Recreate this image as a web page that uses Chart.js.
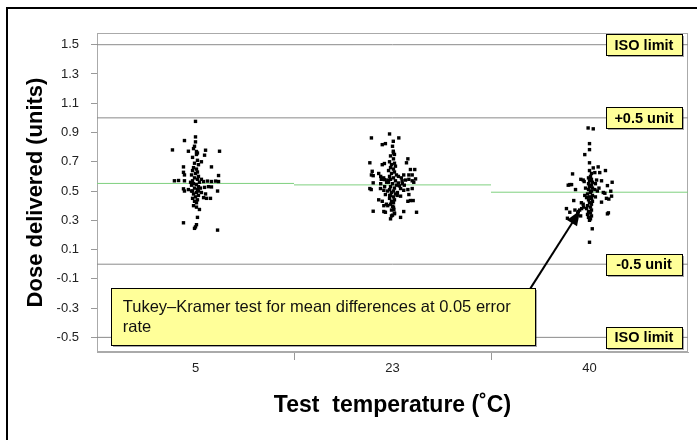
<!DOCTYPE html>
<html>
<head>
<meta charset="utf-8">
<script src="https://cdn.jsdelivr.net/npm/chart.js@4"></script>
<style>
  html, body { margin: 0; padding: 0; background: #fff; }
  #wrap { position: relative; width: 697px; height: 440px; }
</style>
</head>
<body>
<div id="wrap"><canvas id="chart" width="697" height="440"></canvas></div>
<script>
// test temperatures (categories)
const temps = ['5', '23', '40'];

// [jitter, dose] pairs, one list per temperature
const group5 = [
  [0, 0.976], [0, 0.87], [-0.056, 0.845], [0, 0.836], [-0.117, 0.781], [-0.036, 0.772],
  [-0.005, 0.806], [0.005, 0.77], [0.01, 0.76], [0.051, 0.779], [0.122, 0.772], [0.046, 0.745],
  [0.03, 0.70], [-0.061, 0.665], [0.081, 0.665], [-0.061, 0.628], [-0.056, 0.61], [0.117, 0.606],
  [-0.107, 0.57], [-0.086, 0.572], [-0.056, 0.57], [0.041, 0.565], [0.061, 0.568], [0.081, 0.565],
  [0.102, 0.568], [0.117, 0.565], [0.066, 0.53], [0.046, 0.525], [0.081, 0.528], [-0.061, 0.515],
  [-0.056, 0.50], [-0.036, 0.51], [0.112, 0.50], [0.015, 0.50], [0.03, 0.49], [0.051, 0.48],
  [0.041, 0.455], [0.056, 0.45], [0.076, 0.45], [0.02, 0.374], [0.01, 0.32], [-0.061, 0.283],
  [0.005, 0.27], [0, 0.255], [-0.005, 0.245], [0.112, 0.233],
  [-0.01, 0.79], [0.005, 0.75], [-0.015, 0.73], [0.01, 0.71], [-0.005, 0.69], [0.015, 0.68],
  [-0.01, 0.66], [0.005, 0.65], [-0.015, 0.64], [0.01, 0.63], [0, 0.62], [-0.02, 0.61],
  [0.015, 0.60], [-0.005, 0.59], [0.01, 0.58], [-0.015, 0.57], [0.02, 0.56], [-0.01, 0.55],
  [0.005, 0.545], [-0.02, 0.54], [0.015, 0.53], [-0.005, 0.52], [0.01, 0.51], [-0.015, 0.50],
  [0.005, 0.49], [-0.01, 0.48], [0.015, 0.47], [0, 0.46], [-0.015, 0.45], [0.01, 0.44],
  [-0.005, 0.43], [0.005, 0.42], [-0.01, 0.40], [0.005, 0.39], [-0.02, 0.50], [0.025, 0.52],
  [-0.025, 0.56], [0.03, 0.58]
];

const group23 = [
  [-0.015, 0.89], [-0.107, 0.863], [0.032, 0.863], [0.004, 0.84], [-0.036, 0.824], [-0.052, 0.817],
  [0, 0.806], [0.004, 0.772], [0.005, 0.76], [-0.115, 0.693], [0.078, 0.72], [0.071, 0.693],
  [-0.052, 0.68], [-0.041, 0.688], [-0.103, 0.635], [-0.107, 0.61], [-0.098, 0.605], [-0.07, 0.62],
  [0.091, 0.647], [0.113, 0.647], [0.057, 0.61], [0.083, 0.61], [0.1, 0.61], [-0.057, 0.58],
  [-0.041, 0.578], [-0.024, 0.575], [0.117, 0.583], [-0.098, 0.556], [0.049, 0.57], [0.066, 0.575],
  [0.083, 0.58], [0.1, 0.57], [0.108, 0.56], [-0.115, 0.517], [-0.108, 0.51], [-0.061, 0.517],
  [-0.044, 0.505], [0.041, 0.517], [0.057, 0.505], [0.078, 0.51], [0.1, 0.517], [-0.036, 0.476],
  [-0.014, 0.47], [0.024, 0.47], [0.041, 0.465], [0.083, 0.476], [0.078, 0.43], [-0.07, 0.44],
  [-0.052, 0.43], [0.091, 0.435], [0.105, 0.435], [-0.031, 0.41], [-0.024, 0.40], [-0.044, 0.40],
  [0, 0.395], [0.007, 0.375], [-0.098, 0.362], [0.057, 0.36], [-0.044, 0.36], [-0.036, 0.355],
  [0.122, 0.355], [0.01, 0.345], [0, 0.335], [-0.01, 0.31], [0.041, 0.32],
  [0.01, 0.75], [-0.01, 0.74], [0.005, 0.72], [-0.015, 0.70], [0.01, 0.69], [-0.005, 0.68],
  [0.015, 0.67], [-0.01, 0.66], [0.005, 0.65], [-0.02, 0.64], [0.01, 0.63], [-0.005, 0.62],
  [0.02, 0.61], [-0.015, 0.60], [0.005, 0.59], [-0.01, 0.58], [0.015, 0.57], [-0.02, 0.56],
  [0, 0.55], [0.02, 0.54], [-0.01, 0.53], [0.01, 0.52], [-0.015, 0.51], [0.005, 0.50],
  [-0.005, 0.49], [0.015, 0.48], [-0.01, 0.47], [0.005, 0.46], [-0.015, 0.45], [0.01, 0.44],
  [-0.005, 0.43], [0.005, 0.42], [-0.01, 0.41], [0.005, 0.39], [-0.005, 0.37], [0.01, 0.35],
  [-0.005, 0.33], [-0.06, 0.60], [-0.045, 0.59], [0.03, 0.60], [0.045, 0.59], [-0.03, 0.56],
  [0.03, 0.555], [-0.06, 0.55], [0.05, 0.55], [-0.04, 0.53], [0.035, 0.535], [0.06, 0.54],
  [-0.025, 0.50], [0.025, 0.49]
];

const group40 = [
  [-0.007, 0.931], [0.019, 0.925], [0, 0.824], [0, 0.783], [-0.024, 0.749], [0, 0.693],
  [0.019, 0.658], [0.044, 0.665], [0.081, 0.64], [0, 0.64], [0.01, 0.62], [-0.086, 0.617],
  [0.027, 0.626], [0.052, 0.626], [-0.044, 0.58], [-0.032, 0.575], [-0.027, 0.565], [0.036, 0.575],
  [0.061, 0.57], [0.115, 0.56], [-0.1, 0.544], [-0.091, 0.544], [0.091, 0.537], [-0.071, 0.51],
  [0.048, 0.52], [0.027, 0.51], [0.108, 0.499], [0.07, 0.49], [0.078, 0.485], [0.112, 0.465],
  [0.086, 0.45], [0.098, 0.445], [-0.024, 0.47], [-0.015, 0.455], [-0.08, 0.435], [0.061, 0.424],
  [-0.041, 0.42], [-0.032, 0.41], [-0.117, 0.38], [-0.1, 0.355], [-0.074, 0.37], [-0.057, 0.36],
  [0.091, 0.344], [-0.112, 0.314], [0, 0.32], [0.014, 0.242], [0, 0.15], [-0.108, 0.54],
  [0.096, 0.351],
  [0.005, 0.60], [-0.005, 0.59], [0.01, 0.58], [0, 0.57], [0.015, 0.56], [-0.005, 0.55],
  [0.01, 0.54], [0, 0.53], [0.015, 0.52], [-0.005, 0.51], [0.01, 0.50], [0.005, 0.49],
  [-0.01, 0.48], [0.015, 0.47], [0, 0.46], [0.01, 0.45], [-0.005, 0.44], [0.015, 0.43],
  [0, 0.42], [0.01, 0.41], [-0.01, 0.40], [0.005, 0.39], [-0.015, 0.38], [0.01, 0.37],
  [-0.005, 0.36], [0.005, 0.35], [-0.01, 0.34], [0.01, 0.33], [-0.005, 0.32], [0.005, 0.31],
  [0, 0.30], [-0.04, 0.38], [-0.05, 0.37], [-0.03, 0.39], [-0.06, 0.35], [-0.045, 0.33],
  [0.03, 0.55], [0.04, 0.50], [-0.02, 0.52], [0.03, 0.46]
];

// group means (green lines)
const meanDose = [0.552, 0.542, 0.492];

// horizontal reference lines and their labels
const limitValues = [1.5, 1.0, 0.0, -0.5];
const limitLabels = ['ISO limit', '+0.5 unit', '-0.5 unit', 'ISO limit'];

// y tick positions (labels on odd tenths only)
const yTicks = [-0.5, -0.4, -0.3, -0.2, -0.1, 0, 0.1, 0.2, 0.3, 0.4, 0.5, 0.6, 0.7,
                0.8, 0.9, 1.0, 1.1, 1.2, 1.3, 1.4, 1.5];

const noteText = ['Tukey\u2013Kramer test for mean differences at 0.05 error', 'rate'];

Chart.defaults.font.family = "'Liberation Sans', Arial, sans-serif";
Chart.defaults.color = '#222';

const groups = [group5, group23, group40];

const pointSets = groups.map((g, i) => ({
  type: 'scatter',
  data: g.map(p => ({ x: i + 0.5 + p[0], y: p[1] })),
  pointStyle: 'rect',
  pointRadius: 2.4,
  pointBorderWidth: 0,
  backgroundColor: '#000',
  order: 0
}));

const limitSets = limitValues.map(v => ({
  type: 'line',
  data: [{ x: 0, y: v }, { x: 3, y: v }],
  borderColor: '#8a8a8a',
  borderWidth: 1,
  pointRadius: 0,
  order: 2
}));

const meanSets = meanDose.map((m, i) => ({
  type: 'line',
  data: [{ x: i, y: m }, { x: i + 1, y: m }],
  borderColor: '#7fd07f',
  borderWidth: 1,
  pointRadius: 0,
  order: 1
}));

function yellowBox(ctx, x, y, w, h) {
  ctx.fillStyle = 'rgba(0,0,0,0.35)';
  ctx.fillRect(x + 2, y + 2, w, h);
  ctx.fillStyle = '#ffff99';
  ctx.fillRect(x, y, w, h);
  ctx.strokeStyle = '#000';
  ctx.lineWidth = 1;
  ctx.strokeRect(x + 0.5, y + 0.5, w, h);
}

const decorPlugin = {
  id: 'decor',
  beforeDatasetsDraw(chart) {
    const { ctx, chartArea: a } = chart;
    ctx.save();
    ctx.strokeStyle = '#aaa';
    ctx.lineWidth = 1;
    ctx.strokeRect(a.left + 0.5, a.top + 0.5, a.right - a.left - 1, a.bottom - a.top - 1);
    ctx.restore();
  },
  afterDraw(chart) {
    const { ctx, chartArea: a, scales } = chart;
    const xs = scales.x, ys = scales.y;
    ctx.save();

    // labels on the reference lines
    ctx.font = "bold 14.5px 'Liberation Sans', Arial, sans-serif";
    ctx.textBaseline = 'middle';
    ctx.textAlign = 'center';
    const bw = 76, bh = 21;
    limitValues.forEach((v, i) => {
      const py = ys.getPixelForValue(v);
      const bx = a.right - 6 - bw;
      yellowBox(ctx, bx, Math.round(py - bh / 2), bw, bh);
      ctx.fillStyle = '#000';
      ctx.fillText(limitLabels[i], bx + bw / 2, py + 1);
    });

    // note box
    const nl = xs.getPixelForValue(0.07), nr = xs.getPixelForValue(2.22);
    const nt = ys.getPixelForValue(-0.165), nb = ys.getPixelForValue(-0.555);
    yellowBox(ctx, Math.round(nl), Math.round(nt), Math.round(nr - nl), Math.round(nb - nt));
    ctx.fillStyle = '#111';
    ctx.textAlign = 'left';
    ctx.font = "16.5px 'Liberation Sans', Arial, sans-serif";
    noteText.forEach((t, i) => ctx.fillText(t, nl + 12, nt + 19 + i * 20));

    // arrow from the note to the 40 degree group
    const x0 = xs.getPixelForValue(2.2), y0 = nt;
    const x1 = xs.getPixelForValue(2.452), y1 = ys.getPixelForValue(0.367);
    const ang = Math.atan2(y1 - y0, x1 - x0);
    ctx.strokeStyle = '#000';
    ctx.lineWidth = 2;
    ctx.beginPath();
    ctx.moveTo(x0, y0);
    ctx.lineTo(x1 - 10 * Math.cos(ang), y1 - 10 * Math.sin(ang));
    ctx.stroke();
    ctx.fillStyle = '#000';
    ctx.beginPath();
    ctx.moveTo(x1, y1);
    ctx.lineTo(x1 - 15 * Math.cos(ang) + 6 * Math.sin(ang), y1 - 15 * Math.sin(ang) - 6 * Math.cos(ang));
    ctx.lineTo(x1 - 15 * Math.cos(ang) - 6 * Math.sin(ang), y1 - 15 * Math.sin(ang) + 6 * Math.cos(ang));
    ctx.closePath();
    ctx.fill();

    // outer frame
    ctx.strokeStyle = '#000';
    ctx.lineWidth = 2;
    ctx.strokeRect(7, 8, 720, 500);
    ctx.restore();
  }
};

new Chart(document.getElementById('chart'), {
  data: { datasets: [...pointSets, ...meanSets, ...limitSets] },
  options: {
    responsive: false,
    animation: false,
    layout: { padding: { left: 20, right: 9, top: 33, bottom: 0 } },
    plugins: { legend: { display: false }, tooltip: { enabled: false } },
    scales: {
      x: {
        type: 'linear',
        min: 0,
        max: 3,
        afterBuildTicks: s => { s.ticks = [0.5, 1, 1.5, 2, 2.5].map(v => ({ value: v })); },
        afterFit: s => { s.height = 88; },
        ticks: {
          padding: 1,
          font: { size: 13 },
          callback: v => Number.isInteger(v) ? '' : temps[Math.floor(v)]
        },
        grid: {
          drawOnChartArea: false,
          tickLength: 8,
          color: c => (c.tick && Number.isInteger(c.tick.value)) ? '#999' : 'rgba(0,0,0,0)'
        },
        border: { color: '#aaa' },
        title: {
          display: true,
          text: 'Test  temperature (\u02DAC)',
          color: '#000',
          font: { size: 23, weight: 'bold' },
          padding: { top: 0, bottom: 21 }
        }
      },
      y: {
        type: 'linear',
        min: -0.6,
        max: 1.58,
        afterBuildTicks: s => { s.ticks = yTicks.map(v => ({ value: v })); },
        afterFit: s => { s.width = 77; },
        ticks: {
          padding: 12,
          font: { size: 13 },
          callback: v => (Math.abs(Math.round(v * 10)) % 2 === 1) ? v.toFixed(1) : ''
        },
        grid: { drawOnChartArea: false, tickLength: 6, color: '#999' },
        border: { color: '#aaa' },
        title: {
          display: true,
          text: 'Dose delivered (units)',
          color: '#000',
          font: { size: 22, weight: 'bold' },
          padding: { top: 3, bottom: 0 }
        }
      }
    }
  },
  plugins: [decorPlugin]
});
</script>
</body>
</html>
